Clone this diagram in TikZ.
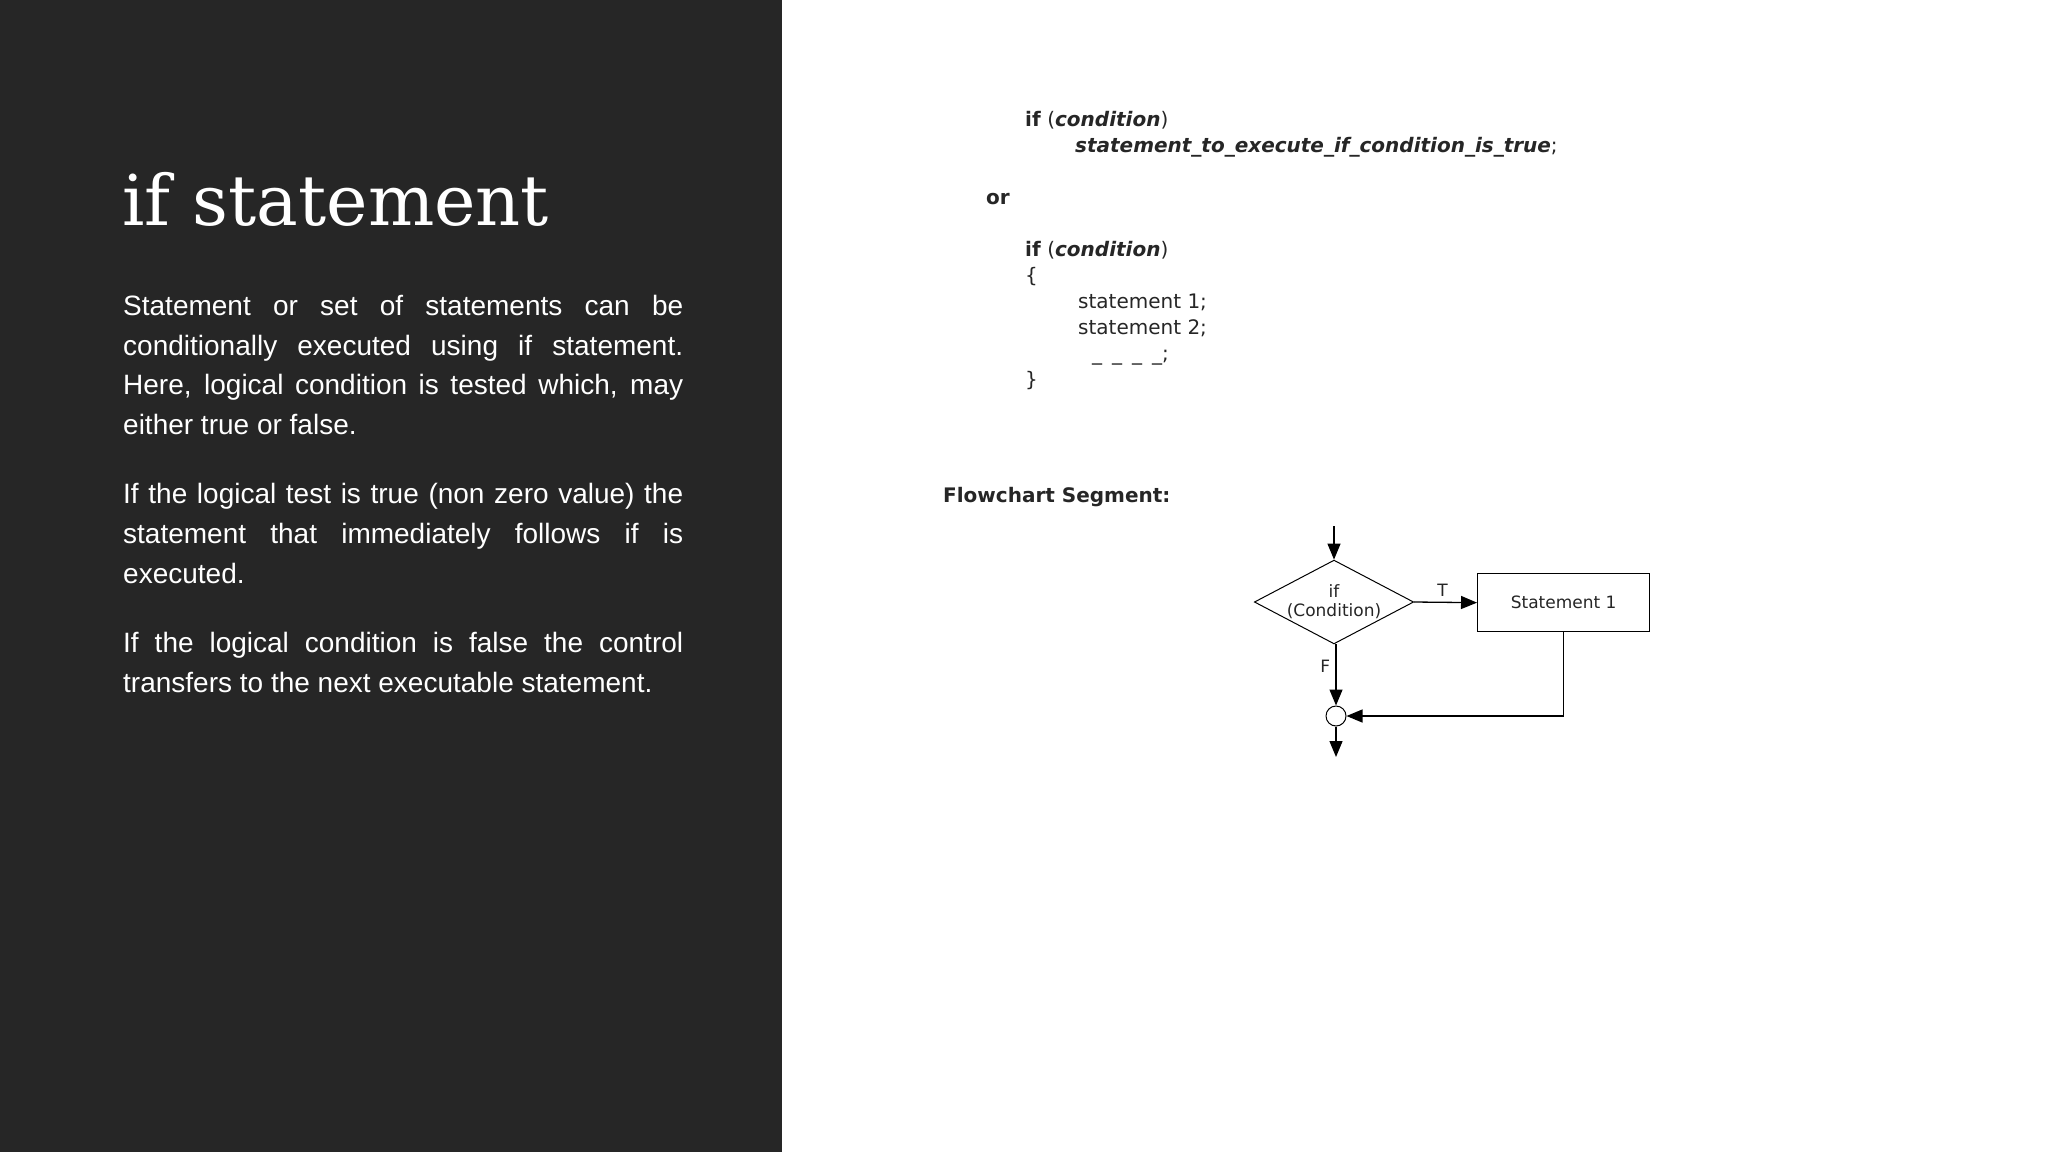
\documentclass[tikz,border=0pt]{standalone}
\usepackage{fontspec}
\setmainfont{DejaVu Serif}
\newfontfamily\bodyf{Liberation Sans}
\newfontfamily\codef{DejaVu Sans}
\usetikzlibrary{shapes.geometric,arrows.meta}
\begin{document}
\begin{tikzpicture}[x=1pt,y=-1pt,
  code/.style={anchor=base west,inner sep=0pt,font=\codef\fontsize{20}{24}\selectfont,text=black!85},
  flow/.style={font=\codef\fontsize{17}{20}\selectfont,text=black!85},
  conn/.style={line width=1.3pt,-{Triangle[length=16pt,width=13pt]}}]
\useasboundingbox (0,0) rectangle (2048,1152);
\fill[white] (0,0) rectangle (2048,1152);
\fill[black!85!white] (0,0) rectangle (782,1152);
\node[anchor=base west,inner sep=0pt,text=white,font=\fontsize{70}{80}\selectfont] (title) at (122,225) {if statement};
\node[anchor=north west,inner sep=0pt,text=white,text width=560pt,align=justify,font=\bodyf\fontsize{28}{39.6}\selectfont] (body) at (123,295) {\hyphenpenalty=10000%
Statement or set of statements can be\linebreak conditionally executed using if statement.\linebreak Here, logical condition is tested which, may\linebreak either true or false.\par\vspace{30pt}
If the logical test is true (non zero value) the\linebreak statement that immediately follows if is\linebreak executed.\par\vspace{30pt}
If the logical condition is false the control\linebreak transfers to the next executable statement.};
\node[code] (c1) at (1025,126) {\textbf{if} (\textbf{\textit{condition}})};
\node[code] (c2) at (1075,152) {\textbf{\textit{statement\_to\_execute\_if\_condition\_is\_true}};};
\node[code] (c3) at (986,204) {\textbf{or}};
\node[code] (c4) at (1025,256) {\textbf{if} (\textbf{\textit{condition}})};
\node[code] (c5) at (1025,282) {\{};
\node[code] (c6) at (1078,308) {statement 1;};
\node[code] (c7) at (1078,334) {statement 2;};
\node[code] (c8) at (1092,360) {\_\hspace{10pt}\_\hspace{10pt}\_\hspace{10pt}\_;};
\node[code] (c9) at (1025,386) {\}};
\node[code] (fs) at (943,502) {\textbf{Flowchart Segment:}};
\coordinate (top) at (1334,526);
\node[flow,draw,line width=1pt,diamond,aspect=1.9,minimum width=146pt,minimum height=77pt,inner sep=0pt,align=center,font=\codef\fontsize{17}{19}\selectfont] (d) at (1334,602) {if\\(Condition)};
\node[flow,draw,line width=1.3pt,minimum width=172pt,minimum height=58pt,anchor=north west] (s) at (1477,573) {Statement 1};
\node[draw,circle,line width=1pt,minimum size=20pt,inner sep=0pt] (j) at (1336,716) {};
\coordinate (corner) at (s.south |- j);
\coordinate (out) at (1336,757);
\draw[conn] (top) -- (d.north);
\draw[conn] (d.east) -- node[flow,above,pos=0.45,yshift=2pt] (tl) {T} (s.west);
\draw[conn] (d.south) ++(2,0) coordinate (ds) (ds) -- node[flow,left,pos=0.35,xshift=-2pt] (fl) {F} (j.north);
\draw[line width=1.3pt] (s.south) -- (corner);
\draw[conn] (corner) -- (j.east);
\draw[conn] (j.south) -- (out);
\end{tikzpicture}
\end{document}
